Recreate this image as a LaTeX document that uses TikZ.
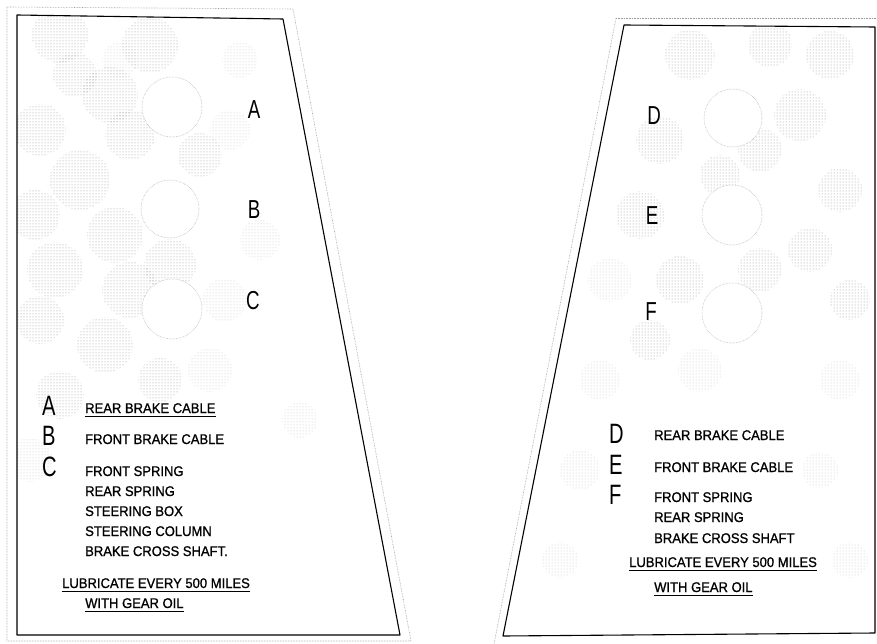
\documentclass[tikz,border=0pt]{standalone}
\usepackage{fontspec}
\setmainfont{Liberation Sans}
\newfontfamily\txtfont{Liberation Sans}[FakeStretch=0.93,FakeBold=0.9]
\newfontfamily\letfont{Liberation Sans}[FakeStretch=0.72]
\usetikzlibrary{patterns}
\begin{document}
\begin{tikzpicture}[x=1pt,y=-1pt,
  frame/.style={line width=1.1pt,black,line join=round},
  ghost/.style={gray!80,densely dotted,line width=0.6pt},
  hole/.style={fill=white,draw=gray!70,densely dotted,line width=0.5pt},
  blob/.style={pattern=dots,pattern color=gray!85,draw=none},
  lblob/.style={pattern=dots,pattern color=gray!45,draw=none},
  holelab/.style={font=\letfont\fontsize{26}{26}\selectfont,inner sep=0pt},
  keylab/.style={font=\letfont\fontsize{28}{28}\selectfont,inner sep=0pt,anchor=base west},
  item/.style={font=\txtfont\fontsize{14}{14}\selectfont,inner sep=0pt,anchor=base west},
  uline/.style={line width=0.9pt,black}]
\useasboundingbox (0,0) rectangle (877,644);
\fill[white] (0,0) rectangle (877,644);
% ---------- LEFT PANEL ----------
\draw[ghost] (7,7) -- (293,9) -- (411,641) -- (7,641) -- cycle;
\begin{scope}
\clip (17,15) -- (283,19) -- (400,635) -- (17,635) -- cycle;
\foreach \x/\y/\r in {60/35/28,75/75/22,150/45/28,110/95/28,40/130/26,130/135/25,
  80/180/30,35/215/25,115/235/28,55/270/28,130/290/28,40/320/24,105/345/28,
  170/265/26,200/155/22,60/395/24,160/380/22}
  \fill[blob] (\x,\y) circle (\r);
\foreach \x/\y/\r in {230/130/20,225/300/22,210/370/22,260/240/20,30/460/22,
  120/60/18,240/60/18,300/420/18}
  \fill[lblob] (\x,\y) circle (\r);
\end{scope}
\draw[frame] (17,15) coordinate (l1) -- (283,19) coordinate (l2) -- (400,635) coordinate (l3) -- (17,635) coordinate (l4) -- cycle;
\node[hole,circle,minimum size=60pt,inner sep=0pt] (hA) at (172,107) {};
\node[hole,circle,minimum size=58pt,inner sep=0pt] (hB) at (170,209) {};
\node[hole,circle,minimum size=60pt,inner sep=0pt] (hC) at (172,309) {};
\node[holelab] (lA) at (254,110) {A};
\node[holelab] (lB) at (254,210) {B};
\node[holelab] (lC) at (253,301) {C};
\node[keylab] (kA) at (42,415) {A};
\node[keylab] (kB) at (42,445) {B};
\node[keylab] (kC) at (42,476) {C};
\node[item] (t1) at (85,413) {REAR BRAKE CABLE};
\draw[uline] ([yshift=-3pt]t1.base west) -- ([yshift=-3pt]t1.base east);
\node[item] (t2) at (85,444) {FRONT BRAKE CABLE};
\node[item] (t3) at (85,476) {FRONT SPRING};
\node[item] (t4) at (85,496) {REAR SPRING};
\node[item] (t5) at (85,516) {STEERING BOX};
\node[item] (t6) at (85,536) {STEERING COLUMN};
\node[item] (t7) at (85,556) {BRAKE CROSS SHAFT.};
\node[item] (t8) at (62,588) {LUBRICATE EVERY 500 MILES};
\draw[uline] ([yshift=-3pt]t8.base west) -- ([yshift=-3pt]t8.base east);
\node[item] (t9) at (85,608) {WITH GEAR OIL};
\draw[uline] ([yshift=-3pt]t9.base west) -- ([yshift=-3pt]t9.base east);
% ---------- RIGHT PANEL ----------
\draw[ghost] (616,18) -- (877,18);
\draw[ghost] (616,18) -- (494,644);
\begin{scope}
\clip (624,25) -- (875,27) -- (875,633) -- (503,636) -- cycle;
\foreach \x/\y/\r in {690/55/25,770/45/22,830/55/24,660/140/24,760/150/22,
  800/115/26,840/190/22,640/215/24,720/175/20,810/250/22,680/280/24,
  760/270/22,650/340/20,850/300/20}
  \fill[blob] (\x,\y) circle (\r);
\foreach \x/\y/\r in {610/280/22,600/380/20,700/370/22,840/380/20,580/470/20,
  820/470/18,560/560/18,850/560/18}
  \fill[lblob] (\x,\y) circle (\r);
\end{scope}
\draw[frame] (624,25) coordinate (r1) -- (875,27) coordinate (r2) -- (875,633) coordinate (r3) -- (503,636) coordinate (r4) -- cycle;
\node[hole,circle,minimum size=58pt,inner sep=0pt] (hD) at (733,118) {};
\node[hole,circle,minimum size=60pt,inner sep=0pt] (hE) at (732,215) {};
\node[hole,circle,minimum size=60pt,inner sep=0pt] (hF) at (732,313) {};
\node[holelab] (lD) at (654,116) {D};
\node[holelab] (lE) at (652,216) {E};
\node[holelab] (lF) at (651,312) {F};
\node[keylab] (kD) at (609,443) {D};
\node[keylab] (kE) at (609,474) {E};
\node[keylab] (kF) at (609,504) {F};
\node[item] (u1) at (654,440) {REAR BRAKE CABLE};
\node[item] (u2) at (654,472) {FRONT BRAKE CABLE};
\node[item] (u3) at (654,502) {FRONT SPRING};
\node[item] (u4) at (654,522) {REAR SPRING};
\node[item] (u5) at (654,543) {BRAKE CROSS SHAFT};
\node[item] (u6) at (629,567) {LUBRICATE EVERY 500 MILES};
\draw[uline] ([yshift=-3pt]u6.base west) -- ([yshift=-3pt]u6.base east);
\node[item] (u7) at (654,592) {WITH GEAR OIL};
\draw[uline] ([yshift=-3pt]u7.base west) -- ([yshift=-3pt]u7.base east);
\end{tikzpicture}
\end{document}
